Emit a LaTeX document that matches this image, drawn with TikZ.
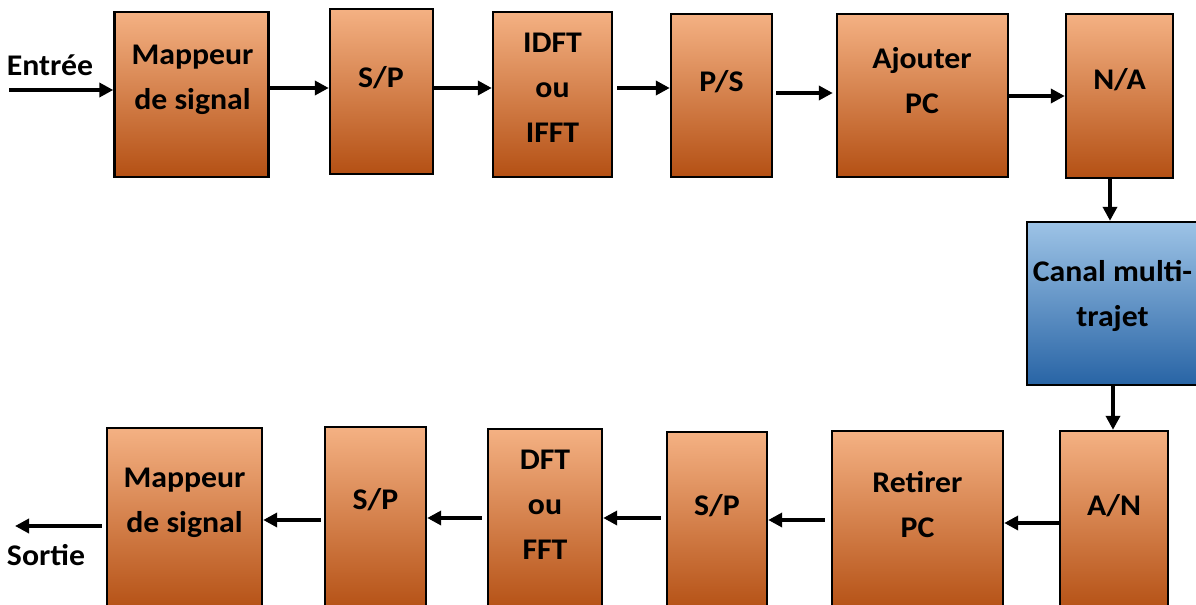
\documentclass[tikz,border=0pt]{standalone}
\usepackage{fontspec}
\setmainfont{Carlito}[FakeStretch=1.06]
\usetikzlibrary{arrows.meta}

\definecolor{orhaut}{RGB}{244,177,131}
\definecolor{ormilieu}{RGB}{237,125,49}
\definecolor{orbas}{RGB}{180,80,20}
\definecolor{blhaut}{RGB}{157,195,230}
\definecolor{blmilieu}{RGB}{91,155,213}
\definecolor{blbas}{RGB}{40,100,165}

\tikzset{
    bloc/.style={draw=black, line width=1.2pt, inner sep=0pt,
        top color=orhaut, middle color=ormilieu, bottom color=orbas},
    canal/.style={bloc, top color=blhaut, middle color=blmilieu, bottom color=blbas},
    etiq/.style={font=\bfseries\fontsize{15}{22.5}\selectfont, align=center, inner sep=0pt},
    fleche/.style={line width=2pt, -{Triangle[length=7pt,width=7pt]}}
}

\begin{document}
\begin{tikzpicture}[x=0.5pt, y=-0.5pt]
    \useasboundingbox (0,0) rectangle (1196,605);

    % chaine d'emission
    \node[bloc, minimum width=77pt, minimum height=82.5pt] (map1) at (191.5,94.5) {};
    \node[bloc, minimum width=51.5pt, minimum height=82.5pt] (sp1) at (381.5,91.5) {};
    \node[bloc, minimum width=59.5pt, minimum height=82.5pt] (idft) at (552.5,94.5) {};
    \node[bloc, minimum width=50.5pt, minimum height=81.5pt] (ps) at (721.5,95.5) {};
    \node[bloc, minimum width=85.5pt, minimum height=81.5pt] (apc) at (922.5,95.5) {};
    \node[bloc, minimum width=53.5pt, minimum height=82pt] (na) at (1119.5,96) {};

    \node[etiq] (map1t) at (192.5,80) {Mappeur\\de signal};
    \node[etiq] (sp1t) at (381,78) {S/P};
    \node[etiq] (idftt) at (552.5,88) {IDFT\\ou\\IFFT};
    \node[etiq] (pst) at (721.5,82) {P/S};
    \node[etiq] (apct) at (922,81) {Ajouter\\PC};
    \node[etiq] (nat) at (1119.5,80) {N/A};

    % canal
    \node[canal, minimum width=85.5pt, minimum height=81.5pt] (can) at (1112.5,303.5) {};
    \node[etiq] (cant) at (1112.5,295.5) {Canal multi-\\trajet};

    % chaine de reception
    \node[bloc, minimum width=54pt, minimum height=90.5pt] (an) at (1114,521.5) {};
    \node[bloc, minimum width=85.5pt, minimum height=90.5pt] (rpc) at (917.5,521.5) {};
    \node[bloc, minimum width=50pt, minimum height=90pt] (sp3) at (717,522) {};
    \node[bloc, minimum width=57pt, minimum height=91.5pt] (dft) at (545,520.5) {};
    \node[bloc, minimum width=50.5pt, minimum height=92.5pt] (sp2) at (375.5,519.5) {};
    \node[bloc, minimum width=77.5pt, minimum height=92pt] (map2) at (184.5,520) {};

    \node[etiq] (ant) at (1114,506) {A/N};
    \node[etiq] (rpct) at (917.5,505) {Retirer\\PC};
    \node[etiq] (sp3t) at (717,506) {S/P};
    \node[etiq] (dftt) at (545,505) {DFT\\ou\\FFT};
    \node[etiq] (sp2t) at (375.5,500) {S/P};
    \node[etiq] (map2t) at (184.5,503) {Mappeur\\de signal};

    % entree et sortie
    \coordinate (ent) at (9,90);
    \coordinate (sor) at (15,526);
    \node[etiq] (entt) at (50,65) {Entrée};
    \node[etiq] (sort) at (46,555) {Sortie};

    % connexions
    \draw[fleche] (ent) -- (ent -| map1.west);
    \draw[fleche] (map1.east |- 0,88) -- (sp1.west |- 0,88);
    \draw[fleche] (sp1.east |- 0,88) -- (idft.west |- 0,88);
    \draw[fleche, shorten <=2pt] (idft.east |- 0,88) -- (ps.west |- 0,88);
    \draw[fleche, shorten <=1.5pt, shorten >=1.5pt] (ps.east |- 0,93) -- (apc.west |- 0,93);
    \draw[fleche] (apc.east |- 0,96) -- (na.west |- 0,96);
    \draw[fleche] (na.south -| 1110,0) -- (can.north -| 1110,0);
    \draw[fleche] (can.south -| 1113,0) -- (an.north -| 1113,0);
    \draw[fleche] (an.west |- 0,523) -- (rpc.east |- 0,523);
    \draw[fleche, shorten <=3pt] (rpc.west |- 0,520) -- (sp3.east |- 0,520);
    \draw[fleche, shorten <=2.5pt] (sp3.west |- 0,518) -- (dft.east |- 0,518);
    \draw[fleche, shorten <=2.5pt] (dft.west |- 0,518) -- (sp2.east |- 0,518);
    \draw[fleche, shorten <=1.5pt] (sp2.west |- 0,520) -- (map2.east |- 0,520);
    \draw[fleche, shorten <=2pt] (map2.west |- sor) -- (sor);
\end{tikzpicture}
\end{document}
